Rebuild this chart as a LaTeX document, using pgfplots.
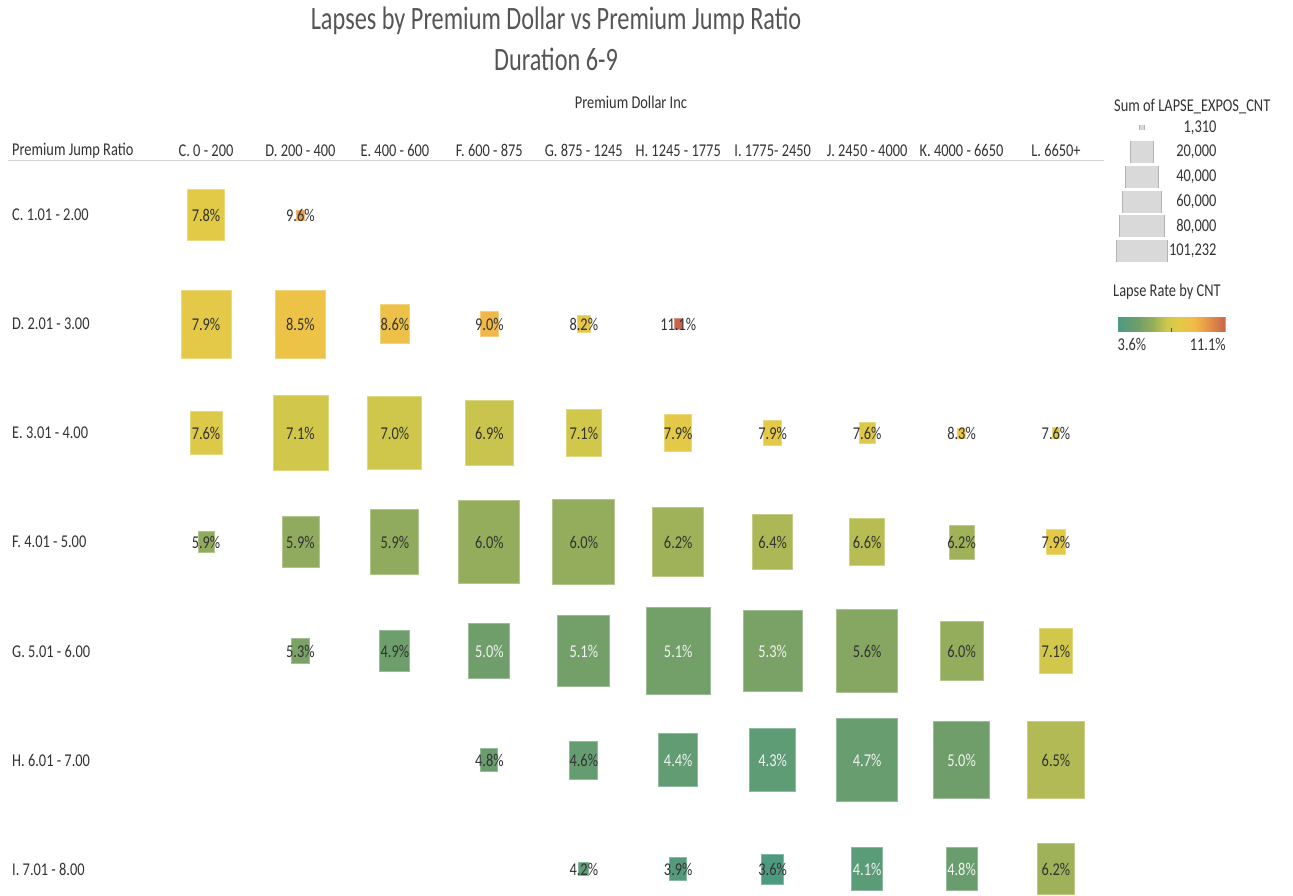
\documentclass[border=0pt]{standalone}
\usepackage{fontspec}
\setmainfont{Carlito}[FakeStretch=0.8]
\newfontfamily\titlefont{Carlito}[FakeStretch=0.745]
\usepackage{pgfplots}
\pgfplotsset{compat=1.18}
\usepackage{pgfplotstable}

\definecolor{txt}{HTML}{333333}
\definecolor{ttl}{HTML}{555555}
\newcommand{\lab}{\fontsize{18}{21}\selectfont}

\pgfplotsset{/pgf/number format/assume math mode=true,
  every tick label/.append style={font=\lab, text=txt}}

% col row rate(%) exposure white-label
\pgfplotstableread{
col row rate expos wt
0 0 7.8 33800 0
1 0 9.6 1310 0
0 1 7.9 61800 0
1 1 8.5 61800 0
2 1 8.6 20800 0
3 1 9.0 8000 0
4 1 8.2 4200 0
5 1 11.1 1600 0
0 2 7.6 25300 0
1 2 7.1 74800 0
2 2 7.0 72100 0
3 2 6.9 56900 0
4 2 7.1 30300 0
5 2 7.9 18000 0
6 2 7.9 8000 0
7 2 7.6 6300 0
8 2 8.3 1350 0
9 2 7.6 1450 0
0 3 5.9 6300 0
1 3 5.9 33800 0
2 3 5.9 56900 0
3 3 6.0 92000 0
4 3 6.0 95000 0
5 3 6.2 64300 0
6 3 6.4 39500 0
7 3 6.6 30300 0
8 3 6.2 15400 0
9 3 7.9 8900 0
1 4 5.3 8900 0
2 4 4.9 22200 0
3 4 5.0 41500 1
4 4 5.1 66800 1
5 4 5.1 101232 1
6 4 5.3 86000 1
7 4 5.6 92000 0
8 4 6.0 45700 0
9 4 7.1 26900 0
3 5 4.8 7100 0
4 5 4.6 19400 0
5 5 4.4 37600 1
6 5 4.3 52300 1
7 5 4.7 92000 1
8 5 5.0 77500 1
9 5 6.5 80300 0
4 6 4.2 2500 0
5 6 3.9 7100 0
6 6 3.6 12000 0
7 6 4.1 23800 1
8 6 4.8 23800 1
9 6 6.2 33800 0
}\heat

\pgfplotstableread{
y val
0 1310
1 20000
2 40000
3 60000
4 80000
5 101232
}\sizeleg

\pgfdeclareplotmark{trect}{%
  \pgfpathrectangle{\pgfpoint{-\pgfplotmarksize}{-1.36*\pgfplotmarksize}}{\pgfpoint{2*\pgfplotmarksize}{2.72*\pgfplotmarksize}}%
  \pgfusepathqfillstroke}
% legend swatch: square clipped to its row band, grey sides
\pgfdeclareplotmark{lrect}{%
  \pgfpathrectangle{\pgfpoint{-\pgfplotmarksize}{-\hh*1pt}}{\pgfpoint{2*\pgfplotmarksize}{2*\hh*1pt}}%
  \pgfusepathqfill
  \pgfpathmoveto{\pgfpoint{-\pgfplotmarksize}{-\hh*1pt}}\pgfpathlineto{\pgfpoint{-\pgfplotmarksize}{\hh*1pt}}%
  \pgfpathmoveto{\pgfpoint{\pgfplotmarksize}{-\hh*1pt}}\pgfpathlineto{\pgfpoint{\pgfplotmarksize}{\hh*1pt}}%
  \pgfusepathqstroke}

\begin{document}
\begin{tikzpicture}
\useasboundingbox (0,0) rectangle (1293pt,-895pt);

\node[anchor=base, font=\titlefont\fontsize{32.6}{36}\selectfont, text=ttl] at (556pt,-29.5pt) {Lapses by Premium Dollar vs Premium Jump Ratio};
\node[anchor=base, font=\titlefont\fontsize{32.6}{36}\selectfont, text=ttl] at (556pt,-70.5pt) {Duration 6-9};
\node[anchor=base, font=\lab, text=txt, inner sep=0pt] at (631pt,-108pt) {Premium Dollar Inc};
\node[anchor=base west, font=\lab, text=txt, inner sep=0pt] at (12pt,-155pt) {Premium Jump Ratio};
\node[anchor=base west, font=\lab, text=txt, inner sep=0pt] at (1114pt,-111pt) {Sum of LAPSE\_EXPOS\_CNT};
\node[anchor=base west, font=\lab, text=txt, inner sep=0pt] at (1113pt,-296pt) {Lapse Rate by CNT};
\draw[color=gray!35, line width=1.2pt] (8pt,-160.5pt) -- (1104pt,-160.5pt);

\begin{axis}[
  at={(158.8pt,-160.5pt)}, anchor=north west,
  scale only axis, width=944.4pt, height=763pt,
  xmin=-0.5, xmax=9.5, ymin=-0.5, ymax=6.5, y dir=reverse,
  axis line style={draw=none}, major tick length=0pt,
  xtick={0,...,9}, xticklabel pos=upper,
  xticklabels={C. 0 - 200, D. 200 - 400, E. 400 - 600, F. 600 - 875, G. 875 - 1245, H. 1245 - 1775, I. 1775- 2450, J. 2450 - 4000, K. 4000 - 6650, L. 6650+},
  ytick={0,...,6},
  yticklabels={C. 1.01 - 2.00, D. 2.01 - 3.00, E. 3.01 - 4.00, F. 4.01 - 5.00, G. 5.01 - 6.00, H. 6.01 - 7.00, I. 7.01 - 8.00},
  yticklabel style={anchor=west, inner sep=0pt, xshift=-146.8pt},
  clip=false,
  colormap={lapse}{rgb255(0cm)=(78,154,128) rgb255(1.4cm)=(111,158,106) rgb255(2.0cm)=(134,167,98) rgb255(2.4cm)=(147,173,92) rgb255(3.0cm)=(183,189,82) rgb255(3.4cm)=(207,199,75) rgb255(4.2cm)=(226,202,71) rgb255(5.0cm)=(237,193,71) rgb255(5.4cm)=(240,184,72) rgb255(6.0cm)=(235,158,72) rgb255(7.5cm)=(200,100,74)},
  point meta min=3.6, point meta max=11.1,
  colorbar horizontal,
  colorbar style={at={(parent axis.north east)}, anchor=north west,
    xshift=14.5pt, yshift=-147.5pt, scale only axis, width=108pt, height=15pt,
    axis line style={draw=none}, major tick length=0pt,
    xtick pos=lower, xticklabel pos=lower,
    xtick={3.6,11.1},
    xticklabels={\makebox[0pt][l]{3.6\%},\makebox[0pt][r]{11.1\%}},
    xticklabel style={yshift=-3pt},
    extra x ticks={7.35}, extra x tick labels={},
    extra x tick style={xtick pos=lower, tick align=inside, major tick length=3.5pt, tick style={black!70, line width=0.8pt}}},
]
\addplot[scatter, only marks, mark=trect, point meta=explicit,
  scatter/use mapped color={draw=mapped color!70!white, fill=mapped color},
  mark options={line width=0.9pt},
  visualization depends on={32*sqrt(\thisrow{expos}/101232) \as \hw},
  scatter/@pre marker code/.append style={/tikz/mark size=\hw}]
  table[x=col, y=row, meta=rate] {\heat};
\addplot[only marks, mark=none, point meta=explicit,
  x filter/.expression={\thisrow{wt}==0 ? x : nan},
  nodes near coords={\pgfmathprintnumber[fixed,fixed zerofill,precision=1]{\pgfplotspointmeta}\%},
  nodes near coords style={anchor=center, text=txt, font=\lab}]
  table[x=col, y=row, meta=rate] {\heat};
\addplot[only marks, mark=none, point meta=explicit,
  x filter/.expression={\thisrow{wt}==1 ? x : nan},
  nodes near coords={\pgfmathprintnumber[fixed,fixed zerofill,precision=1]{\pgfplotspointmeta}\%},
  nodes near coords style={anchor=center, text=white!95!black, font=\lab}]
  table[x=col, y=row, meta=rate] {\heat};
\end{axis}

\begin{axis}[at={(1110pt,-115.15pt)}, anchor=north west, scale only axis,
  width=150pt, height=148.2pt, xmin=0, xmax=150, ymin=-0.5, ymax=5.5,
  y dir=reverse, hide axis, clip=false]
\addplot[scatter, only marks, mark=lrect, point meta=explicit,
  scatter/use mapped color={draw=gray!60, fill=gray!30},
  mark options={line width=1pt},
  visualization depends on={25.5*sqrt(\thisrow{val}/101232) \as \hw},
  visualization depends on={min(25.5*sqrt(\thisrow{val}/101232),11) \as \hh},
  scatter/@pre marker code/.append style={/tikz/mark size=\hw}]
  table[x expr=32, y=y, meta=val] {\sizeleg};
\addplot[only marks, mark=none, point meta=explicit,
  nodes near coords={\pgfmathprintnumber[fixed,precision=0,1000 sep={,}]{\pgfplotspointmeta}},
  nodes near coords style={anchor=east, xshift=78pt, text=txt, font=\lab}]
  table[x expr=32, y=y, meta=val] {\sizeleg};
\end{axis}
\end{tikzpicture}
\end{document}
